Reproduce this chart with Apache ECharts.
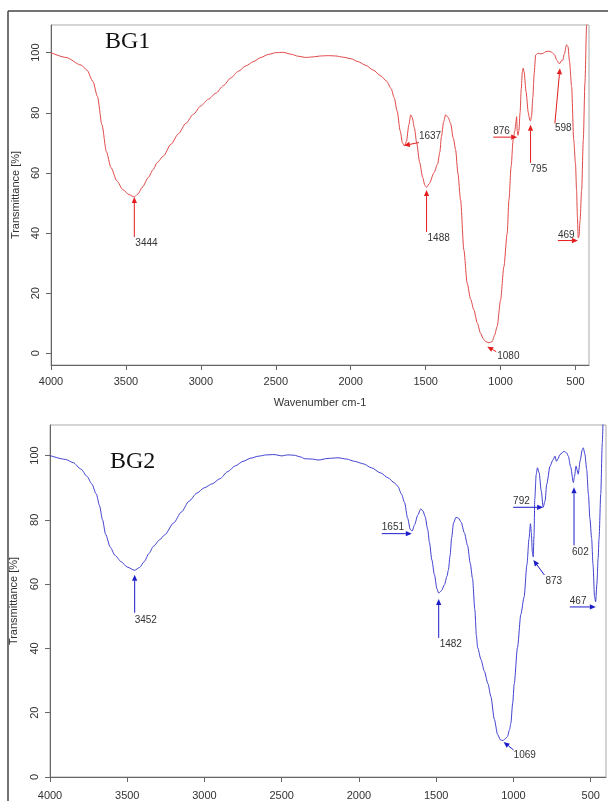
<!DOCTYPE html>
<html lang="en">
<head>
  <meta charset="UTF-8">
  <title>FTIR BG1 / BG2</title>
  <style>
    html, body, #main {
      margin: 0;
      padding: 0;
      background: #fff;
    }
    #main {
      width: 608px;
      height: 801px;
    }
  </style>
</head>
<body>
  <div id="main"></div>
  <script src="https://cdn.jsdelivr.net/npm/echarts@6/dist/echarts.min.js"></script>
  <script>
    // spectra: [wavenumber, transmittance %]
    const bg1 = [
      [4000, 100], [3900, 98.4], [3800, 95.9], [3760, 94.2], [3720, 90.4], [3690, 85.4],
      [3660, 76], [3630, 67], [3600, 61.8], [3560, 57.3], [3520, 54.4], [3480, 52.8],
      [3444, 52], [3420, 53], [3390, 55.3], [3350, 58.5], [3320, 61], [3290, 63.5],
      [3250, 65.6], [3200, 69.5], [3150, 73], [3100, 76.5], [3050, 79.5], [3000, 82.3],
      [2950, 84.5], [2900, 86.5], [2850, 89], [2800, 91.6], [2750, 93.8], [2700, 95.6],
      [2650, 97], [2600, 98.4], [2550, 99.4], [2500, 100], [2450, 100.1], [2400, 99.5],
      [2350, 98.8], [2300, 98.4], [2250, 98.6], [2200, 98.9], [2150, 99], [2100, 98.9],
      [2050, 98.5], [2000, 98], [1950, 97], [1900, 95.8], [1850, 94.2], [1800, 92.3],
      [1760, 90.5], [1730, 88], [1710, 85], [1690, 80.5], [1670, 74], [1655, 70],
      [1642, 69], [1628, 70.5], [1612, 76], [1600, 79.3], [1590, 78.5], [1575, 75],
      [1560, 70], [1540, 63.5], [1520, 58.5], [1505, 55.8], [1494, 55.2], [1475, 56.5],
      [1445, 60], [1420, 63], [1405, 67], [1395, 72], [1380, 77], [1367, 79.3],
      [1350, 78.5], [1334, 76.5], [1315, 71.5], [1300, 67.7], [1285, 60], [1267, 51],
      [1245, 34.4], [1223, 23.3], [1200, 18], [1178, 14.4], [1155, 10], [1134, 6.7],
      [1115, 4.8], [1100, 3.9], [1078, 3.5], [1056, 3.9], [1040, 6], [1023, 8.9],
      [1000, 17.7], [978, 28.8], [956, 39.9], [944, 51], [930, 62], [916, 71],
      [905, 74], [897, 77], [893, 78.7], [889, 74], [884, 72.5], [878, 74],
      [870, 80], [862, 88], [855, 93.5], [849, 94.8], [843, 93.5], [830, 87],
      [815, 80], [805, 77.5], [800, 77.3], [793, 79], [785, 85], [776, 93],
      [766, 99.2], [750, 99.8], [730, 99.6], [715, 99.8], [700, 100.3], [680, 100.5],
      [660, 100.2], [640, 99.3], [625, 97.5], [612, 96.5], [604, 96.4], [595, 97.3],
      [585, 97.5], [575, 99.5], [560, 102.6], [550, 102], [540, 97], [526, 88.7],
      [512, 71], [500, 63], [493, 54.3], [487, 45], [482, 38.4], [476, 39],
      [470, 44], [459, 54.3], [448, 71], [437, 90], [426, 109], [420, 118]
    ];

    const bg2 = [
      [4000, 100], [3900, 98.8], [3850, 97.8], [3800, 95.8], [3760, 93.5], [3730, 91.2],
      [3700, 88], [3680, 84.5], [3660, 80], [3640, 75.5], [3610, 71.5], [3580, 69],
      [3540, 67], [3500, 65.3], [3452, 64.3], [3420, 65.2], [3390, 67], [3360, 69.5],
      [3330, 71.8], [3290, 73.8], [3258, 75.3], [3200, 79], [3150, 82.4], [3100, 85.8],
      [3050, 88.3], [3000, 90], [2950, 91.2], [2900, 92.8], [2850, 95], [2800, 96.8],
      [2750, 98.2], [2700, 99.2], [2650, 99.8], [2600, 100.2], [2550, 100.3], [2500, 99.9],
      [2460, 100.2], [2420, 100.1], [2380, 99.6], [2350, 99], [2300, 98.9], [2265, 98.6],
      [2200, 99.1], [2135, 99.3], [2080, 98.9], [2028, 98.2], [1970, 97.4], [1920, 96.2],
      [1860, 94.6], [1813, 93.1], [1770, 91.5], [1748, 90.4], [1725, 88], [1705, 85.4],
      [1685, 80.5], [1668, 77], [1656, 76.5], [1640, 78.5], [1619, 81.5], [1600, 83.4],
      [1585, 82.7], [1572, 81], [1555, 77], [1544, 73], [1528, 67.5], [1512, 63],
      [1495, 58.5], [1484, 57.2], [1465, 58], [1447, 59.8], [1430, 62.5], [1421, 64.5],
      [1410, 69], [1400, 74.5], [1388, 79], [1372, 80.8], [1355, 80.5], [1339, 79.3],
      [1318, 76], [1297, 72], [1280, 66.5], [1265, 61.8], [1250, 52], [1240, 44],
      [1232, 40.3], [1210, 36.5], [1189, 33], [1165, 29], [1146, 25], [1124, 18],
      [1103, 13.3], [1085, 11.6], [1068, 11.3], [1055, 11.8], [1039, 12.6], [1025, 14.8],
      [1017, 16.7], [1005, 23], [995, 29], [974, 40.3], [952, 50.6], [931, 56],
      [913, 66], [899, 74.2], [890, 78.8], [884, 76], [878, 70], [872, 68.5],
      [867, 75], [862, 86.5], [853, 94], [845, 96.2], [834, 94.7], [820, 89],
      [808, 83.9], [795, 86], [785, 91], [763, 96.7], [745, 98.6], [731, 99.8],
      [722, 98.2], [712, 99], [699, 100.3], [673, 101.3], [655, 100.8], [645, 99.8],
      [630, 96.5], [612, 91.6], [605, 93.5], [595, 96.7], [588, 95.5], [581, 94.2],
      [568, 98.5], [555, 101.8], [548, 102.4], [538, 100.5], [526, 95.7], [515, 88],
      [505, 80.3], [494, 74.2], [485, 66], [475, 56], [468, 54.5], [460, 60],
      [452, 68], [446, 74.2], [435, 88], [425, 104], [418, 115]
    ];

    // marked bands: [label, wavenumber where the arrow points, transmittance]
    const bg1Peaks = [
      ['3444', 3444, 52.0], ['1637', 1645, 69.1], ['1488', 1494, 54.3], ['1080', 1089, 2.2],
      ['876', 889, 71.9], ['795', 800, 76.0], ['598', 604, 94.8], ['469', 484, 37.5]
    ];
    const bg2Peaks = [
      ['3452', 3452, 62.9], ['1651', 1658, 75.7], ['1482', 1484, 55.4], ['1069', 1064, 10.9],
      ['792', 808, 83.9], ['873', 871, 67.5], ['602', 608, 90.1], ['467', 467, 52.9]
    ];

    // arrow tail offset and text offset from the tail, in px
    const bg1Layout = [
      [0, 40, 1, 6], [15, -3, 0, -6], [0, 42, 1, 6], [9, 5, 1, 5],
      [-24, 0, 0, -6], [0, 38, 0, 6], [-5, 55, 0, 5], [-20, 0, 0, -5]
    ];
    const bg2Layout = [
      [0, 38, 0, 7], [-30, 0, 0, -6], [0, 39, 1, 6], [10, 8, 0, 5],
      [-30, 0, 0, -6], [11, 15, 1, 6], [0, 58, -2, 7], [-26, 0, 0, -6]
    ];

    const xTicks = [4000, 3500, 3000, 2500, 2000, 1500, 1000, 500];
    const yTicks = [0, 20, 40, 60, 80, 100];

    const font = 'Liberation Sans';

    const arrows = (idx, peaks, layout, color) => ({
      type: 'custom',
      coordinateSystem: 'cartesian2d',
      xAxisIndex: idx,
      yAxisIndex: idx,
      data: peaks.map(p => [p[1], p[2]]),
      encode: { x: 0, y: 1 },
      clip: false,
      silent: true,
      z: 5,
      renderItem: function (params, api) {
        const head = api.coord([api.value(0), api.value(1)]);
        const l = layout[params.dataIndex];
        const tail = [head[0] + l[0], head[1] + l[1]];
        const dx = head[0] - tail[0], dy = head[1] - tail[1];
        const len = Math.sqrt(dx * dx + dy * dy);
        const ux = dx / len, uy = dy / len;
        const hl = 6, hw = 2.6;
        const base = [head[0] - ux * hl, head[1] - uy * hl];
        return {
          type: 'group',
          children: [
            {
              type: 'line',
              shape: { x1: tail[0], y1: tail[1], x2: base[0], y2: base[1] },
              style: { stroke: color, lineWidth: 1 }
            },
            {
              type: 'polygon',
              shape: {
                points: [head, [base[0] - uy * hw, base[1] + ux * hw], [base[0] + uy * hw, base[1] - ux * hw]]
              },
              style: { fill: color }
            },
            {
              type: 'text',
              x: tail[0] + l[2],
              y: tail[1] + l[3],
              style: {
                text: peaks[params.dataIndex][0],
                fill: '#333',
                font: '10px ' + font,
                align: 'left',
                verticalAlign: 'middle'
              }
            }
          ]
        };
      }
    });

    const xAxisFor = (idx, min, name, margin) => ({
      gridIndex: idx,
      type: 'value',
      inverse: true,
      min: min,
      max: 4000,
      name: name,
      nameLocation: 'middle',
      nameGap: 32,
      nameTextStyle: { fontFamily: font, fontSize: 11, color: '#333' },
      axisLine: { onZero: false, lineStyle: { color: '#666', width: 1 } },
      axisTick: { customValues: xTicks, length: 5, lineStyle: { color: '#666' } },
      axisLabel: {
        customValues: xTicks,
        formatter: v => String(v),
        margin: margin,
        fontFamily: font,
        fontSize: 11,
        color: '#333'
      },
      splitLine: { show: false }
    });

    const yAxisFor = (idx, min, max, gap) => ({
      gridIndex: idx,
      type: 'value',
      min: min,
      max: max,
      name: 'Transmittance [%]',
      nameLocation: 'middle',
      nameGap: gap,
      nameRotate: 90,
      nameTextStyle: { fontFamily: font, fontSize: 11, color: '#333' },
      axisLine: { show: true, onZero: false, lineStyle: { color: '#666', width: 1 } },
      axisTick: { show: true, customValues: yTicks, length: 5, lineStyle: { color: '#666' } },
      axisLabel: { customValues: yTicks, rotate: 90, margin: 10, fontFamily: font, fontSize: 11, color: '#333' },
      splitLine: { show: false }
    });

    const myChart = echarts.init(document.getElementById('main'));
    const option = {
      animation: false,
      backgroundColor: '#fff',
      grid: [
        { left: 51, top: 25, right: 19, height: 340, show: true, borderColor: '#aaa', borderWidth: 1 },
        { left: 48, top: 425, right: 2, height: 356, show: true, borderColor: '#aaa', borderWidth: 1 }
      ],
      xAxis: [xAxisFor(0, 410, 'Wavenumber cm-1', 11), xAxisFor(1, 401, '', 13)],
      yAxis: [yAxisFor(0, -3.9, 109.2, 30), yAxisFor(1, 0, 109.5, 31)],
      graphic: [
        { type: 'line', shape: { x1: 8, y1: 11, x2: 8, y2: 801 }, style: { stroke: '#444', lineWidth: 1.5 } },
        { type: 'line', shape: { x1: 8, y1: 11, x2: 608, y2: 11 }, style: { stroke: '#444', lineWidth: 1.5 } },
        { type: 'text', x: 105, y: 42, style: { text: 'BG1', font: '24px Liberation Serif', fill: '#111', verticalAlign: 'middle' } },
        { type: 'text', x: 110, y: 462, style: { text: 'BG2', font: '24px Liberation Serif', fill: '#111', verticalAlign: 'middle' } }
      ],
      series: [
        {
          name: 'BG1',
          type: 'line',
          xAxisIndex: 0,
          yAxisIndex: 0,
          data: bg1,
          showSymbol: false,
          smooth: 0.25,
          smoothMonotone: 'x',
          clip: true,
          lineStyle: { color: '#e04848', width: 1 }
        },
        {
          name: 'BG2',
          type: 'line',
          xAxisIndex: 1,
          yAxisIndex: 1,
          data: bg2,
          showSymbol: false,
          smooth: 0.25,
          smoothMonotone: 'x',
          clip: true,
          lineStyle: { color: '#4040d0', width: 1 }
        },
        arrows(0, bg1Peaks, bg1Layout, '#e41c1c'),
        arrows(1, bg2Peaks, bg2Layout, '#1c1cc8')
      ]
    };

    myChart.setOption(option);
  </script>
</body>
</html>
